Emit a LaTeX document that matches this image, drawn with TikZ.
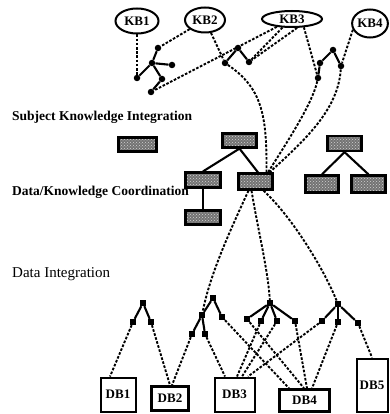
\documentclass[tikz,border=0pt]{standalone}
\usepackage{fontspec}
\setmainfont{Liberation Serif}
\usetikzlibrary{shapes.geometric,patterns}

\begin{document}
\begin{tikzpicture}[x=1pt,y=-1pt,
  kb/.style={ellipse,draw,line width=2pt,inner sep=0pt,font=\fontsize{13}{13}\selectfont\bfseries},
  knot/.style={circle,fill,inner sep=0pt,minimum size=6.5pt},
  dnot/.style={rectangle,fill,inner sep=0pt,minimum size=6pt},
  sbox/.style={rectangle,draw,line width=2.2pt,inner sep=0pt,
    preaction={fill=black!55},pattern=crosshatch dots,pattern color=gray!35},
  db/.style={rectangle,draw,line width=2pt,inner sep=0pt,font=\fontsize{13}{13}\selectfont\bfseries},
  link/.style={line width=1.9pt,dash pattern=on 2.6pt off 1.6pt},
  arm/.style={line width=2.1pt},
  lbl/.style={anchor=west,inner sep=0pt,font=\fontsize{13.5}{14}\selectfont\bfseries},
]
\useasboundingbox (0,0) rectangle (389,414);

% knowledge bases
\node[kb,minimum width=43pt,minimum height=25pt] (KB1) at (137,21) {KB1};
\node[kb,minimum width=40pt,minimum height=25pt] (KB2) at (205,20) {KB2};
\node[kb,minimum width=60pt,minimum height=16pt] (KB3) at (292,19) {KB3};
\node[kb,minimum width=35pt,minimum height=28pt] (KB4) at (370,23.5) {KB4};

% knowledge trees
\node[knot] (a1) at (158,48) {};
\node[knot] (a2) at (152,63) {};
\node[knot] (a3) at (172,65) {};
\node[knot] (a4) at (137,78) {};
\node[knot] (a5) at (162,79) {};
\node[knot] (a6) at (151,92) {};
\node[knot] (b1) at (238,48) {};
\node[knot] (b2) at (225,63) {};
\node[knot] (b3) at (249,62) {};
\node[knot] (c1) at (318,78) {};
\node[knot] (c2) at (320,63) {};
\node[knot] (c3) at (333,50) {};
\node[knot] (c4) at (341,66) {};

% level labels
\node[lbl] (subj) at (12,117) {Subject Knowledge Integration};
\node[lbl] (dkc) at (12,192) {Data/Knowledge Coordination};
\node[lbl,font=\fontsize{15}{16}\selectfont] (di) at (12,274) {Data Integration};

% integrated objects
\node[sbox,minimum width=38pt,minimum height=14pt] (BL) at (137.5,144.5) {};
\node[sbox,minimum width=34pt,minimum height=14pt] (BA) at (239.5,140.5) {};
\node[sbox,minimum width=35pt,minimum height=15pt] (BB) at (203,180) {};
\node[sbox,minimum width=34pt,minimum height=16pt] (BC) at (255.5,181.5) {};
\node[sbox,minimum width=35pt,minimum height=14pt] (BD) at (203,217.5) {};
\node[sbox,minimum width=34pt,minimum height=15pt] (BE) at (344.5,143.5) {};
\node[sbox,minimum width=33pt,minimum height=17pt] (BF) at (322,184) {};
\node[sbox,minimum width=34pt,minimum height=17pt] (BG) at (368.5,184) {};

% data trees
\node[dnot] (d1) at (143,303) {};
\node[dnot] (d2) at (133,322) {};
\node[dnot] (d3) at (151,322) {};
\node[dnot] (e1) at (213,298) {};
\node[dnot] (e2) at (202,315) {};
\node[dnot] (e3) at (222,317) {};
\node[dnot] (e4) at (192,334) {};
\node[dnot] (e5) at (205,334) {};
\node[dnot] (f1) at (270,303) {};
\node[dnot] (f2) at (247,319) {};
\node[dnot] (f3) at (261,321) {};
\node[dnot] (f4) at (277,321) {};
\node[dnot] (f5) at (295,321) {};
\node[dnot] (g1) at (338,304) {};
\node[dnot] (g2) at (322,321) {};
\node[dnot] (g3) at (338,322) {};
\node[dnot] (g4) at (358,323) {};

% databases
\node[db,minimum width=35pt,minimum height=34pt] (DB1) at (118,394.5) {DB1};
\node[db,line width=2.6pt,minimum width=37pt,minimum height=24pt] (DB2) at (170,398.5) {DB2};
\node[db,minimum width=40pt,minimum height=34pt] (DB3) at (234.5,394.5) {DB3};
\node[db,line width=2.5pt,minimum width=50pt,minimum height=22pt] (DB4) at (304.5,400.5) {DB4};
\node[db,minimum width=31pt,minimum height=53pt] (DB5) at (372,385) {DB5};

% tree edges
\draw[arm] (a1) -- (a2);
\draw[arm] (a2) -- (a3);
\draw[arm] (a2) -- (a4);
\draw[arm] (a2) -- (a5);
\draw[arm] (a5) -- (a6);
\draw[arm] (b1) -- (b2);
\draw[arm] (b1) -- (b3);
\draw[arm] (c1) -- (c2);
\draw[arm] (c2) -- (c3);
\draw[arm] (c3) -- (c4);
\draw[arm] (BA.south) -- (BB.north);
\draw[arm] (BA.south) -- ([xshift=2.5pt]BC.north);
\draw[arm] (BB.south) -- (BD.north);
\draw[arm] (BE.south) -- (BF.north);
\draw[arm] (BE.south) -- (BG.north);
\draw[arm] (d1) -- (d2);
\draw[arm] (d1) -- (d3);
\draw[arm] (e1) -- (e2);
\draw[arm] (e1) -- (e3);
\draw[arm] (e2) -- (e4);
\draw[arm] (e2) -- (e5);
\foreach \k in {f2,f3,f4,f5} \draw[arm] (f1) -- (\k);
\foreach \k in {g2,g3,g4} \draw[arm] (g1) -- (\k);

% knowledge base links
\draw[link] (KB1) -- (a4);
\draw[link] (KB2) -- (a1);
\draw[link] (KB2) -- (b2);
\draw[link] (KB3) -- (a6);
\draw[link] (KB3.222) -- (b3);
\draw[link] (KB3.300) -- (b3);
\draw[link] (KB3.325) -- (c1);
\draw[link] (KB4.200) -- (c4);

% coordination links
\draw[link] (b2) .. controls (262,88) and (267,115) .. ([xshift=11pt]BC.north);
\draw[link] (c1) .. controls (312,105) and (285,145) .. ([xshift=12.5pt]BC.north);
\draw[link] (c4) .. controls (338,110) and (305,140) .. ([xshift=14pt]BC.north);
\draw[link] ([xshift=-7pt]BC.south) .. controls (228,235) and (210,275) .. (e2);
\draw[link] ([xshift=-4pt]BC.south) .. controls (258,230) and (268,270) .. (f1);
\draw[link] ([xshift=8pt]BC.south) .. controls (290,215) and (322,265) .. (g1);

% database links
\draw[link] (d2) -- ([xshift=-8pt]DB1.north);
\draw[link] (d3) -- (DB2.north);
\draw[link] (e4) -- ([xshift=2pt]DB2.north);
\draw[link] (e5) -- ([xshift=-9.5pt]DB3.north);
\draw[link] (f3) -- ([xshift=2.5pt]DB3.north);
\draw[link] (f4) -- ([xshift=7.5pt]DB3.north);
\draw[link] (g2) -- ([xshift=13.5pt]DB3.north);
\draw[link] (e3) -- ([xshift=-15.5pt]DB4.north);
\draw[link] (f2) -- ([xshift=-0.5pt]DB4.north);
\draw[link] (f5) -- ([xshift=2.5pt]DB4.north);
\draw[link] (g3) -- ([xshift=7.5pt]DB4.north);
\draw[link] (g4) -- (DB5.north);
\end{tikzpicture}
\end{document}
